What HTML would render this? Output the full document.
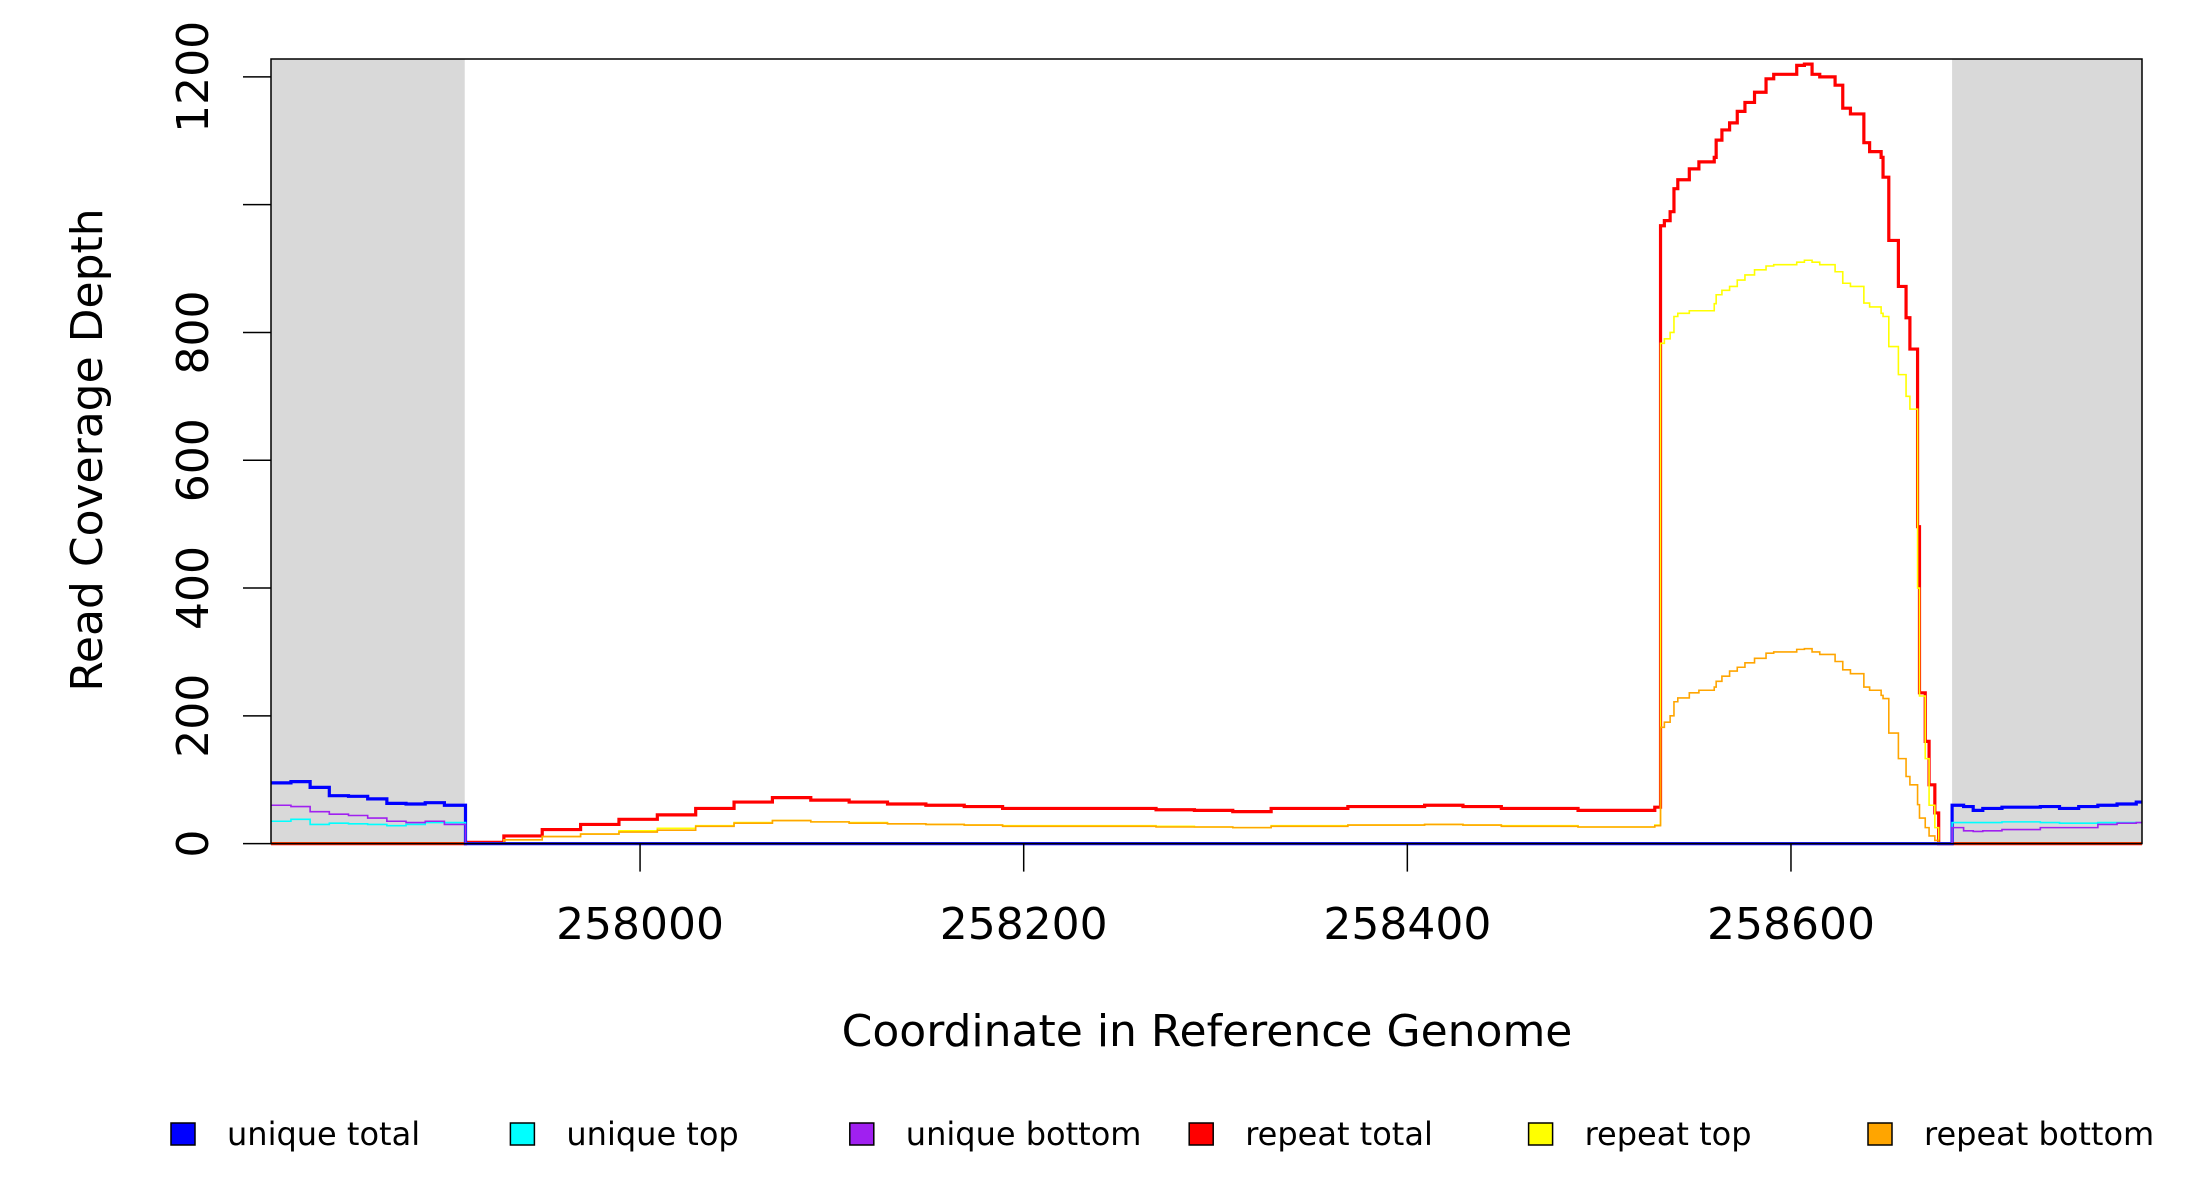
<!DOCTYPE html>
<html><head><meta charset="utf-8"><style>
html,body{margin:0;padding:0;background:#fff;}
svg{display:block;font-family:"DejaVu Sans","Liberation Sans",sans-serif;}
</style></head><body>
<svg id="chart" width="2200" height="1200" viewBox="0 0 2200 1200" xmlns="http://www.w3.org/2000/svg">
<g id="bg"></g>
<g id="series"></g>
<g id="axes"></g>
<text x="0" y="0" font-size="44" text-anchor="middle" transform="translate(102,450) rotate(-90)">Read Coverage Depth</text>
<text x="1207" y="1046" font-size="44" text-anchor="middle">Coordinate in Reference Genome</text>
<g id="legend"></g>
</svg>
<script>
const xTicks=[258000,258200,258400,258600];
const yTicks=[0,200,400,600,800,1000,1200];
const yTickLabels=["0","200","400","600","800","","1200"];
const grayRegions=[[257807.6,257908.6],[258684,258783]];
const seriesNames=["unique total","unique top","unique bottom","repeat total","repeat top","repeat bottom"];
const seriesColors=["#0000ff","#00ffff","#a020f0","#ff0000","#ffff00","#ffa500"];

const uniqueX=[257807.6,257818,257828,257838,257848,257858,257868,257878,257888,257898,257909,258684,258690,258695,258700,258710,258720,258730,258740,258750,258760,258770,258780,258783];
const uniqueTotal=[95,97,88,75,74,70,63,62,64,60,0,60,58,52,55,57,57,58,55,58,60,62,65,65];
const uniqueTop=[35,38,30,32,31,30,28,30,33,33,0,33,33,33,33,34,34,33,32,32,33,33,33,33];
const uniqueBottom=[60,58,50,46,44,40,35,33,35,30,0,25,20,19,20,22,22,25,25,25,30,32,33,33];

const repeatX=[257807.6,257909,257929,257949,257969,257989,258009,258029,258049,258069,258089,258109,258129,258149,258169,258189,258209,258229,258249,258269,258289,258309,258329,258349,258369,258389,258409,258429,258449,258469,258489,258509,258529,
258532,258534,258537,258539,258541,258547,258552,258560,258561,258564,258568,258572,258576,258581,258587,258591,258599,258603,258607,258611,258615,258623,258627,258631,258638,258641,258647,258648,258651,258656,258660,258662,258666,258667,258670,258672,258675,258677,258684,258783];
const repeatTotal=[0,2,12,22,30,38,45,55,65,72,68,65,62,60,58,55,55,55,55,53,52,50,55,55,58,58,60,58,55,55,52,52,57,
967,975,989,1025,1039,1056,1067,1074,1101,1117,1128,1146,1160,1176,1197,1204,1204,1218,1220,1204,1200,1187,1151,1142,1097,1083,1074,1043,944,872,823,774,496,236,160,92,48,0,0,0];
const repeatTop=[0,1,6,11,15,20,24,28,33,36,34,33,31,30,29,28,28,28,28,27,26,25,28,28,29,29,30,29,28,28,26,26,29,
783,790,800,825,830,834,834,845,859,866,872,882,890,898,904,906,906,910,913,910,906,895,877,872,846,840,830,825,778,734,700,680,400,231,133,60,25,0,0,0];
const repeatBottom=[0,1,6,11,15,18,21,27,32,36,34,32,31,30,29,27,27,27,27,26,26,25,27,27,29,29,30,29,27,27,26,26,28,
182,190,200,222,228,236,240,245,254,262,270,276,283,290,298,300,300,304,305,300,296,285,272,266,245,240,232,227,173,133,105,92,61,40,25,12,5,0,0,0];

const X0=257807.6,X1=258783,PL=271,PR=2142,PB=843.6,PT=59,YMAX=1228;
function xs(c){return PL+(c-X0)/(X1-X0)*(PR-PL);}
function ys(v){return PB-v/YMAX*(PB-PT);}
const NS="http://www.w3.org/2000/svg";
function mk(tag,parent){const e=document.createElementNS(NS,tag);parent.appendChild(e);return e;}
const bg=document.getElementById('bg'),sg=document.getElementById('series'),ax=document.getElementById('axes'),lg=document.getElementById('legend');

grayRegions.forEach((r,i)=>{
  const e=mk('rect',bg);
  
  
  e.setAttribute('x',xs(r[0]));e.setAttribute('y',PT);
  e.setAttribute('width',xs(r[1])-xs(r[0]));e.setAttribute('height',PB-PT);
  e.setAttribute('fill','#d9d9d9');
});

function stepPath(xArr,yArr){
  let d='M'+xs(xArr[0]).toFixed(2)+','+ys(yArr[0]).toFixed(2);
  for(let i=1;i<xArr.length;i++){
    d+='H'+xs(xArr[i]).toFixed(2)+'V'+ys(yArr[i]).toFixed(2);
  }
  return d;
}
const order=[
  [repeatX,repeatTotal,3,3.2,'repeat-total-line'],
  [repeatX,repeatTop,4,1.6,'repeat-top-line'],
  [repeatX,repeatBottom,5,1.6,'repeat-bottom-line'],
  [uniqueX,uniqueTotal,0,3.2,'unique-total-line'],
  [uniqueX,uniqueTop,1,1.6,'unique-top-line'],
  [uniqueX,uniqueBottom,2,1.6,'unique-bottom-line']
];
order.forEach(o=>{
  const p=mk('path',sg);
  
  
  p.setAttribute('d',stepPath(o[0],o[1]));
  p.setAttribute('fill','none');
  p.setAttribute('stroke',seriesColors[o[2]]);
  p.setAttribute('stroke-width',o[3]);
});

const box=mk('rect',ax);


box.setAttribute('x',PL);box.setAttribute('y',PT);box.setAttribute('width',PR-PL);box.setAttribute('height',PB-PT);
box.setAttribute('fill','none');box.setAttribute('stroke','#000');box.setAttribute('stroke-width','1.5');

yTicks.forEach((v,i)=>{
  const t=mk('line',ax);
  
  
  t.setAttribute('x1',PL-28);t.setAttribute('x2',PL);t.setAttribute('y1',ys(v));t.setAttribute('y2',ys(v));
  t.setAttribute('stroke','#000');t.setAttribute('stroke-width','1.5');
  if(yTickLabels[i]){
    const l=mk('text',ax);
    
    
    l.setAttribute('font-size','44');l.setAttribute('text-anchor','middle');
    l.setAttribute('transform','translate(208,'+ys(v)+') rotate(-90)');
    l.textContent=yTickLabels[i];
  }
});
xTicks.forEach(v=>{
  const t=mk('line',ax);
  
  
  t.setAttribute('x1',xs(v));t.setAttribute('x2',xs(v));t.setAttribute('y1',PB);t.setAttribute('y2',PB+28);
  t.setAttribute('stroke','#000');t.setAttribute('stroke-width','1.5');
  const l=mk('text',ax);
  
  
  l.setAttribute('font-size','44');l.setAttribute('text-anchor','middle');
  l.setAttribute('x',xs(v));l.setAttribute('y',939);
  l.textContent=v;
});

seriesNames.forEach((n,i)=>{
  const bx=171+i*339.4;
  const r=mk('rect',lg);
  
  
  r.setAttribute('x',bx);r.setAttribute('y',1123);r.setAttribute('width',24);r.setAttribute('height',22);
  r.setAttribute('fill',seriesColors[i]);r.setAttribute('stroke','#000');r.setAttribute('stroke-width','1.5');
  const t=mk('text',lg);
  
  
  t.setAttribute('x',bx+56);t.setAttribute('y',1145);t.setAttribute('font-size','32');
  t.textContent=n;
});
</script>
</body></html>
